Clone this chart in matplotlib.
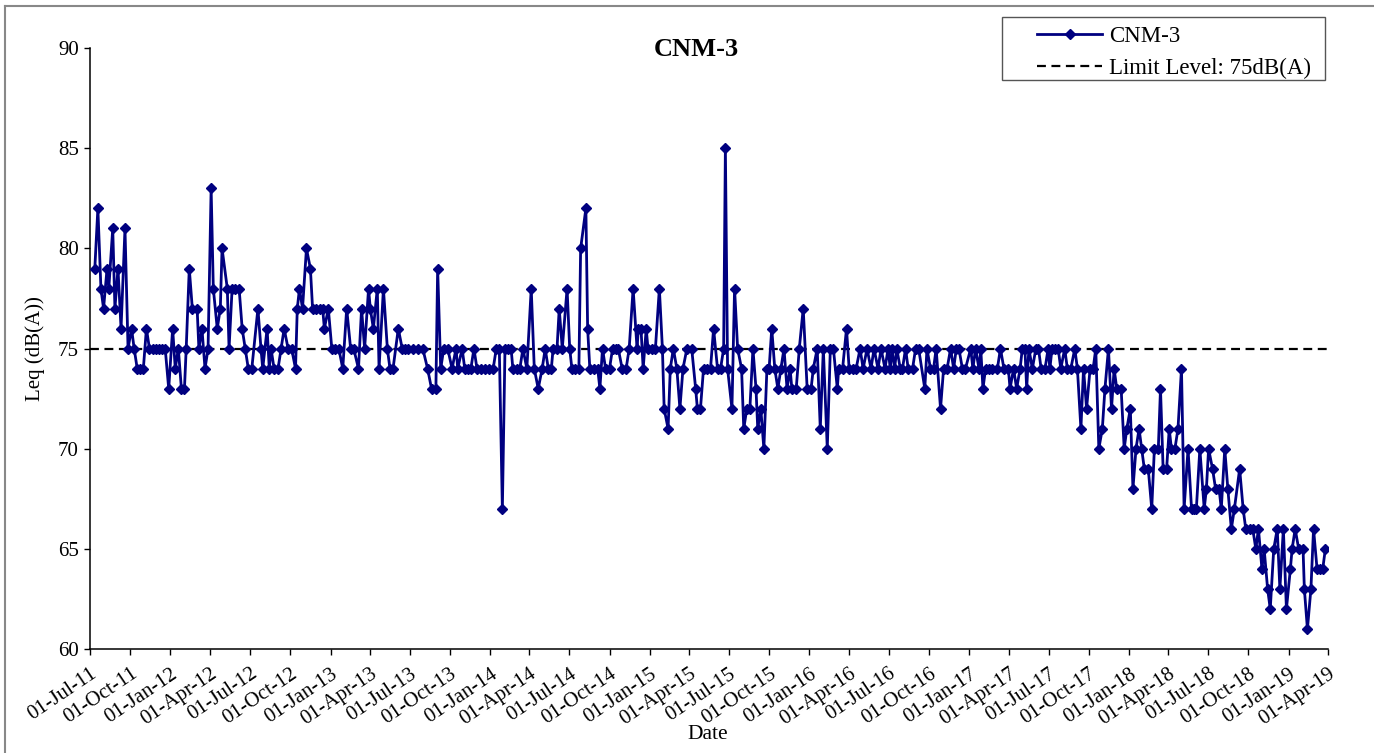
import matplotlib
matplotlib.use("Agg")
import matplotlib.pyplot as plt
import matplotlib.dates as mdates
from matplotlib.lines import Line2D
from matplotlib.patches import Rectangle
import pandas as pd

# Weekly Leq readings at CNM-3, (month-day, dB(A)) per year
readings_2011 = [
    ("07-12", 79), ("07-19", 82), ("07-26", 78), ("08-01", 77), ("08-09", 79), ("08-13", 78),
    ("08-22", 81), ("08-27", 77), ("09-03", 79), ("09-10", 76), ("09-19", 81), ("09-26", 75),
    ("10-04", 76), ("10-10", 75), ("10-17", 74), ("10-24", 74), ("10-31", 74), ("11-07", 76),
    ("11-14", 75), ("11-22", 75), ("11-29", 75), ("12-06", 75), ("12-13", 75), ("12-20", 75),
    ("12-28", 73),
]
readings_2012 = [
    ("01-06", 76), ("01-12", 74), ("01-19", 75), ("01-26", 73), ("02-02", 73), ("02-06", 75),
    ("02-13", 79), ("02-20", 77), ("03-02", 77), ("03-06", 75), ("03-13", 76), ("03-20", 74),
    ("03-27", 75), ("04-03", 83), ("04-08", 78), ("04-17", 76), ("04-24", 77), ("04-28", 80),
    ("05-10", 78), ("05-14", 75), ("05-21", 78), ("05-28", 78), ("06-06", 78), ("06-13", 76),
    ("06-20", 75), ("06-27", 74), ("07-05", 74), ("07-19", 77), ("07-26", 75), ("07-30", 74),
    ("08-09", 76), ("08-14", 74), ("08-18", 75), ("08-25", 74), ("09-03", 74), ("09-10", 75),
    ("09-17", 76), ("09-26", 75), ("10-04", 75), ("10-13", 74), ("10-17", 77), ("10-22", 78),
    ("10-29", 77), ("11-07", 80), ("11-16", 79), ("11-21", 77), ("11-28", 77), ("12-07", 77),
    ("12-14", 77), ("12-18", 76), ("12-27", 77),
]
readings_2013 = [
    ("01-04", 75), ("01-11", 75), ("01-20", 75), ("01-29", 74), ("02-07", 77), ("02-16", 75),
    ("02-23", 75), ("03-06", 74), ("03-13", 77), ("03-20", 75), ("03-29", 78), ("04-02", 77),
    ("04-09", 76), ("04-18", 78), ("04-22", 74), ("05-02", 78), ("05-11", 75), ("05-17", 74),
    ("05-24", 74), ("06-05", 76), ("06-14", 75), ("06-21", 75), ("06-28", 75), ("07-08", 75),
    ("07-20", 75), ("07-31", 75), ("08-11", 74), ("08-20", 73), ("08-30", 73), ("09-03", 79),
    ("09-10", 74), ("09-17", 75), ("09-26", 75), ("10-06", 74), ("10-15", 75), ("10-19", 74),
    ("10-29", 75), ("11-04", 74), ("11-11", 74), ("11-18", 74), ("11-25", 75), ("12-02", 74),
    ("12-11", 74), ("12-20", 74), ("12-30", 74),
]
readings_2014 = [
    ("01-08", 74), ("01-15", 75), ("01-22", 75), ("01-29", 67), ("02-04", 75), ("02-11", 75),
    ("02-18", 75), ("02-22", 74), ("03-03", 74), ("03-10", 74), ("03-17", 75), ("03-26", 74),
    ("04-05", 78), ("04-12", 74), ("04-21", 73), ("04-30", 74), ("05-07", 75), ("05-14", 74),
    ("05-21", 74), ("05-25", 75), ("06-03", 75), ("06-08", 77), ("06-15", 75), ("06-26", 78),
    ("07-02", 75), ("07-07", 74), ("07-14", 74), ("07-23", 74), ("07-27", 80), ("08-08", 82),
    ("08-12", 76), ("08-17", 74), ("08-26", 74), ("09-04", 74), ("09-09", 73), ("09-15", 75),
    ("09-22", 74), ("10-01", 74), ("10-08", 75), ("10-15", 75), ("10-21", 75), ("10-30", 74),
    ("11-08", 74), ("11-15", 75), ("11-24", 78), ("12-03", 75), ("12-06", 76), ("12-12", 76),
    ("12-17", 74), ("12-24", 76), ("12-28", 75),
]
readings_2015 = [
    ("01-07", 75), ("01-14", 75), ("01-23", 78), ("01-30", 75), ("02-03", 72), ("02-12", 71),
    ("02-17", 74), ("02-24", 75), ("03-04", 74), ("03-11", 72), ("03-18", 74), ("03-27", 75),
    ("04-07", 75), ("04-16", 73), ("04-20", 72), ("04-27", 72), ("05-04", 74), ("05-13", 74),
    ("05-20", 74), ("05-27", 76), ("06-05", 74), ("06-12", 74), ("06-19", 75), ("06-23", 85),
    ("06-28", 74), ("07-08", 72), ("07-14", 78), ("07-21", 75), ("07-30", 74), ("08-04", 71),
    ("08-11", 72), ("08-18", 72), ("08-25", 75), ("09-01", 73), ("09-05", 71), ("09-12", 72),
    ("09-19", 70), ("09-26", 74), ("10-01", 74), ("10-07", 76), ("10-14", 74), ("10-21", 73),
    ("10-28", 74), ("11-04", 75), ("11-11", 73), ("11-18", 74), ("11-22", 73), ("12-02", 73),
    ("12-09", 75), ("12-18", 77), ("12-27", 73),
]
readings_2016 = [
    ("01-05", 73), ("01-10", 74), ("01-19", 75), ("01-26", 71), ("02-02", 75), ("02-11", 70),
    ("02-18", 75), ("02-25", 75), ("03-05", 73), ("03-08", 74), ("03-17", 74), ("03-26", 76),
    ("04-01", 74), ("04-10", 74), ("04-17", 74), ("04-26", 75), ("05-03", 74), ("05-12", 75),
    ("05-21", 74), ("05-28", 75), ("06-06", 74), ("06-13", 75), ("06-22", 74), ("06-29", 75),
    ("07-04", 74), ("07-08", 75), ("07-14", 74), ("07-19", 75), ("07-27", 74), ("08-01", 74),
    ("08-08", 75), ("08-14", 74), ("08-24", 74), ("08-31", 75), ("09-07", 75), ("09-21", 73),
    ("09-26", 75), ("10-04", 74), ("10-11", 74), ("10-17", 75), ("10-27", 72), ("11-03", 74),
    ("11-11", 74), ("11-19", 75), ("11-26", 74), ("12-02", 75), ("12-08", 75), ("12-16", 74),
    ("12-23", 74),
]
readings_2017 = [
    ("01-04", 75), ("01-09", 74), ("01-15", 75), ("01-23", 74), ("01-27", 75), ("02-01", 73),
    ("02-07", 74), ("02-15", 74), ("02-22", 74), ("03-06", 74), ("03-13", 75), ("03-21", 74),
    ("03-31", 74), ("04-04", 73), ("04-12", 74), ("04-19", 73), ("04-27", 74), ("05-02", 75),
    ("05-08", 75), ("05-12", 73), ("05-17", 75), ("05-25", 74), ("06-02", 75), ("06-08", 75),
    ("06-14", 74), ("06-23", 74), ("06-30", 75), ("07-04", 74), ("07-09", 75), ("07-15", 75),
    ("07-23", 75), ("07-29", 74), ("08-07", 75), ("08-13", 74), ("08-21", 74), ("08-30", 75),
    ("09-05", 74), ("09-13", 71), ("09-19", 74), ("09-26", 72), ("10-04", 74), ("10-11", 74),
    ("10-17", 75), ("10-24", 70), ("11-01", 71), ("11-07", 73), ("11-15", 75), ("11-22", 72),
    ("11-28", 74), ("12-04", 73), ("12-14", 73), ("12-21", 70), ("12-27", 71),
]
readings_2018 = [
    ("01-04", 72), ("01-10", 68), ("01-17", 70), ("01-24", 71), ("01-30", 70), ("02-05", 69),
    ("02-14", 69), ("02-22", 67), ("02-28", 70), ("03-09", 70), ("03-14", 73), ("03-20", 69),
    ("03-28", 69), ("04-03", 71), ("04-08", 70), ("04-16", 70), ("04-23", 71), ("05-01", 74),
    ("05-07", 67), ("05-16", 70), ("05-24", 67), ("05-30", 67), ("06-04", 67), ("06-12", 70),
    ("06-22", 67), ("06-27", 68), ("07-02", 70), ("07-11", 69), ("07-18", 68), ("07-26", 68),
    ("07-31", 67), ("08-08", 70), ("08-15", 68), ("08-23", 66), ("08-30", 67), ("09-11", 69),
    ("09-19", 67), ("09-25", 66), ("10-05", 66), ("10-11", 66), ("10-18", 65), ("10-24", 66),
    ("11-01", 64), ("11-06", 65), ("11-14", 63), ("11-20", 62), ("11-28", 65), ("12-06", 66),
    ("12-12", 63), ("12-20", 66), ("12-27", 62),
]
readings_2019 = [
    ("01-05", 64), ("01-09", 65), ("01-16", 66), ("01-24", 65), ("02-03", 65), ("02-06", 63),
    ("02-13", 61), ("02-21", 63), ("02-27", 66), ("03-07", 64), ("03-14", 64), ("03-20", 64),
    ("03-26", 65),
]

limit_level = 75
y_ticks = [60, 65, 70, 75, 80, 85, 90]
x_start, x_end = "2011-07-01", "2019-04-01"

by_year = {2011: readings_2011, 2012: readings_2012, 2013: readings_2013,
           2014: readings_2014, 2015: readings_2015, 2016: readings_2016,
           2017: readings_2017, 2018: readings_2018, 2019: readings_2019}
rows = [(f"{yr}-{md}", v) for yr, recs in by_year.items() for md, v in recs]
df = pd.DataFrame(rows, columns=["date", "leq"])
df["date"] = pd.to_datetime(df["date"])

plt.rcParams["font.family"] = ["Liberation Serif", "DejaVu Serif"]

fig = plt.figure(figsize=(13.74, 7.53), dpi=100)
ax = fig.add_axes([0.0655, 0.138, 0.901, 0.798])

ax.plot(df["date"], df["leq"], color="#000080", lw=2.0, marker="D", ms=5.5,
        mec="#000080", mfc="#000080", zorder=3)
ax.axhline(limit_level, color="black", lw=1.6, ls=(0, (4, 2.5)), zorder=2)

ax.set_xlim(pd.Timestamp(x_start), pd.Timestamp(x_end))
ax.set_ylim(60, 90)
ax.set_yticks(y_ticks)
ax.xaxis.set_major_locator(mdates.MonthLocator(bymonth=[1, 4, 7, 10], bymonthday=1))
ax.xaxis.set_major_formatter(mdates.DateFormatter("%d-%b-%y"))

for s in ["top", "right"]:
    ax.spines[s].set_visible(False)
for s in ["left", "bottom"]:
    ax.spines[s].set_linewidth(1.1)
ax.tick_params(axis="both", direction="out", length=4, width=1, labelsize=15, pad=4)
ax.tick_params(axis="x", pad=7)
plt.setp(ax.get_xticklabels(), rotation=34, ha="right", rotation_mode="anchor")

ax.set_ylabel("Leq (dB(A))", fontsize=15)
ax.yaxis.set_label_coords(-0.036, 0.5)
fig.text(0.515, 0.025, "Date", fontsize=15.5, ha="center", va="center")
fig.text(0.507, 0.934, "CNM-3", fontsize=19, fontweight="bold", ha="center", va="center")

handles = [
    Line2D([], [], color="#000080", lw=2.0, marker="D", ms=5.5),
    Line2D([], [], color="black", lw=1.6, ls=(0, (4, 2.5))),
]
fig.legend(handles, ["CNM-3", "Limit Level: 75dB(A)"], loc="upper left",
           bbox_to_anchor=(0.7547, 0.966), borderaxespad=0, borderpad=0, fontsize=16.5,
           frameon=False, handlelength=2.85, labelspacing=0.48, handletextpad=0.3)
fig.add_artist(Rectangle((1002 / 1374, 1 - 80 / 753), 323 / 1374, 63 / 753,
                         transform=fig.transFigure, fill=False, ec="#555555", lw=1.0))

# chart area border (left and top visible)
fig.add_artist(Line2D([0.0036, 0.0036], [0, 0.992], color="#888888", lw=1.5,
                      transform=fig.transFigure))
fig.add_artist(Line2D([0.0036, 1.0], [0.992, 0.992], color="#888888", lw=1.5,
                      transform=fig.transFigure))

fig.savefig("out.png", dpi=100)
